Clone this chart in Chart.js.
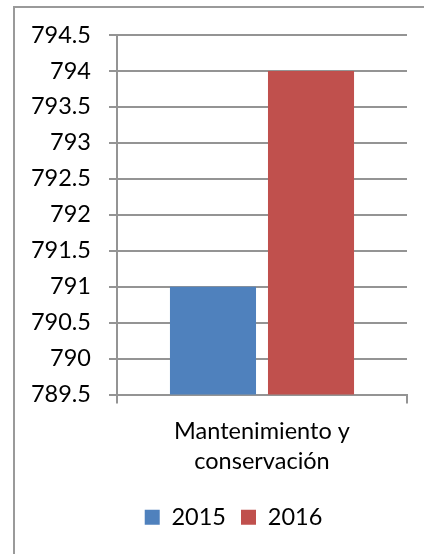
<!DOCTYPE html>
<html>
<head>
<meta charset="utf-8">
<script src="https://cdn.jsdelivr.net/npm/chart.js@4"></script>
<style>
  html, body { margin: 0; padding: 0; background: #ffffff; overflow: hidden; }
  #frame { position: absolute; left: 13px; top: 6px; width: 600px; height: 700px;
           border-left: 2px solid #9a9a9a; border-top: 2px solid #9a9a9a; }
  #c { position: absolute; left: 0; top: 0; }
</style>
</head>
<body>
<div id="frame"></div>
<canvas id="c" width="424" height="554"></canvas>
<script>
const categories = [['Mantenimiento y', 'conservación']];
const seriesNames = ['2015', '2016'];
const values2015 = [791];
const values2016 = [794];
const seriesColors = ['#4F81BD', '#C0504D'];
const yMin = 789.5, yMax = 794.5, yStep = 0.5;

const FONT = 'Lato, "Open Sans", sans-serif';
const FS = 23.5;
const gridColor = '#949494';

// shift the bottom legend so it is centred like the original Office chart
const legendShift = {
  id: 'legendShift',
  afterLayout(chart) { if (chart.legend) chart.legend.left += 60; }
};

new Chart(document.getElementById('c'), {
  type: 'bar',
  data: {
    labels: categories,
    datasets: [
      { label: seriesNames[0], data: values2015, backgroundColor: seriesColors[0],
        categoryPercentage: 0.676, barPercentage: 0.878 },
      { label: seriesNames[1], data: values2016, backgroundColor: seriesColors[1],
        categoryPercentage: 0.676, barPercentage: 0.878 }
    ]
  },
  plugins: [legendShift],
  options: {
    responsive: false,
    animation: false,
    layout: { padding: { top: 35, right: 17, left: 0, bottom: 15 } },
    plugins: {
      legend: {
        position: 'bottom',
        labels: {
          boxWidth: 15, boxHeight: 15, padding: 15,
          color: '#000', font: { family: FONT, size: FS }
        }
      },
      tooltip: { enabled: false }
    },
    scales: {
      x: {
        offset: true,
        grid: { display: true, drawOnChartArea: false, drawTicks: true, tickLength: 9,
                color: gridColor, lineWidth: 2, offset: true },
        border: { display: true, color: gridColor, width: 2 },
        ticks: { color: '#000', padding: 13, maxRotation: 0,
                 font: { family: FONT, size: FS, lineHeight: 1.277 } },
        afterFit: s => { s.height = 96; }
      },
      y: {
        min: yMin, max: yMax,
        ticks: { stepSize: yStep, color: '#000', padding: 18,
                 font: { family: FONT, size: FS },
                 callback: v => String(v) },
        grid: { color: gridColor, lineWidth: 2, tickLength: 8, drawTicks: true },
        border: { display: true, color: gridColor, width: 2 },
        afterFit: s => { s.width = 117; }
      }
    }
  }
});
</script>
</body>
</html>
